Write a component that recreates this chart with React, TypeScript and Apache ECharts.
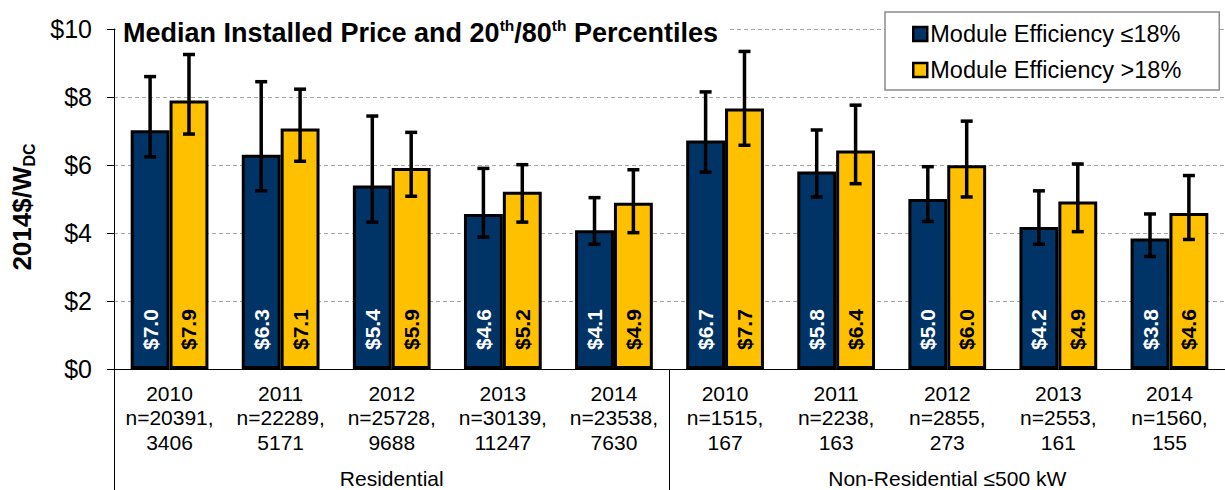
import React, { useEffect, useRef } from "react";
import * as echarts from "echarts";

const FONT = "'Liberation Sans', Arial, sans-serif";

const years = ["2010", "2011", "2012", "2013", "2014", "2010", "2011", "2012", "2013", "2014"];
const sampleSizes = [
  "n=20391,\n3406",
  "n=22289,\n5171",
  "n=25728,\n9688",
  "n=30139,\n11247",
  "n=23538,\n7630",
  "n=1515,\n167",
  "n=2238,\n163",
  "n=2855,\n273",
  "n=2553,\n161",
  "n=1560,\n155",
];
const segments = ["Residential", "Non-Residential ≤500 kW"];
const seriesNames = ["Module Efficiency ≤18%", "Module Efficiency >18%"];

const lowEffMedian = [7.02, 6.3, 5.4, 4.56, 4.08, 6.72, 5.81, 5.0, 4.18, 3.84];
const lowEffP20 = [6.24, 5.24, 4.32, 3.88, 3.67, 5.79, 5.06, 4.34, 3.67, 3.31];
const lowEffP80 = [8.6, 8.45, 7.44, 5.9, 5.04, 8.15, 7.03, 5.95, 5.24, 4.56];

const highEffMedian = [7.9, 7.07, 5.91, 5.21, 4.89, 7.66, 6.43, 5.99, 4.93, 4.59];
const highEffP20 = [6.91, 6.11, 5.08, 4.32, 4.01, 6.58, 5.45, 5.06, 4.04, 3.81];
const highEffP80 = [9.25, 8.23, 6.96, 6.01, 5.86, 9.34, 7.76, 7.29, 6.03, 5.69];

const yTicks = { min: 0, max: 10, interval: 2 };

const BLUE = "#003366";
const YELLOW = "#FFC000";

function makeErrorSeries(name: string, lo: number[], hi: number[], sign: number) {
  return {
    type: "custom",
    name,
    xAxisIndex: 0,
    z: 5,
    data: lo.map((l, i) => [i, l, hi[i]]),
    encode: { x: 0, y: [1, 2] },
    renderItem: (params: any, api: any) => {
      const idx = api.value(0);
      const pHi = api.coord([idx, api.value(2)]);
      const pLo = api.coord([idx, api.value(1)]);
      const band = api.size([1, 0])[0];
      const cx = pHi[0] + sign * band * 0.175;
      const cap = 6;
      const st = { stroke: "#000", lineWidth: 3.5 };
      return {
        type: "group",
        children: [
          { type: "line", shape: { x1: cx, y1: pHi[1], x2: cx, y2: pLo[1] }, style: st },
          { type: "line", shape: { x1: cx - cap, y1: pHi[1], x2: cx + cap, y2: pHi[1] }, style: st },
          { type: "line", shape: { x1: cx - cap, y1: pLo[1], x2: cx + cap, y2: pLo[1] }, style: st },
        ],
      };
    },
  };
}

function barLabel(color: string) {
  return {
    show: true,
    position: "insideBottom",
    rotate: 90,
    align: "left",
    verticalAlign: "middle",
    distance: 19,
    color,
    fontFamily: FONT,
    fontWeight: "bold",
    fontSize: 21,
    formatter: (p: any) => "$" + Number(p.value).toFixed(1),
  };
}

export default function App() {
  const ref = useRef<HTMLDivElement>(null);
  useEffect(() => {
    document.body.style.margin = "0";
    if (!ref.current) return;
    const chart = echarts.init(ref.current, undefined, { renderer: "svg" });
    const categories = years.map((y, i) => y + "\n" + sampleSizes[i]);
    chart.setOption({
      animation: false,
      backgroundColor: "#fff",
      textStyle: { fontFamily: FONT },
      grid: { left: 114, top: 29, width: 1121, height: 340, containLabel: false },
      legend: {
        data: seriesNames,
        orient: "vertical",
        left: 885,
        top: 12,
        padding: [10, 38, 8, 27],
        itemGap: 12,
        itemWidth: 14,
        itemHeight: 14,
        icon: "rect",
        backgroundColor: "#fff",
        borderColor: "#8c8c8c",
        borderWidth: 1.5,
        borderRadius: 0,
        itemStyle: { borderColor: "#000", borderWidth: 2.5 },
        textStyle: { fontFamily: FONT, fontSize: 23.5, color: "#000", padding: [0, 0, 0, -2] },
      },
      xAxis: [
        {
          type: "category",
          data: categories,
          position: "bottom",
          axisLine: { show: true, lineStyle: { color: "#000", width: 1 } },
          axisTick: { show: false },
          axisLabel: {
            interval: 0,
            margin: 12,
            fontFamily: FONT,
            fontSize: 21,
            lineHeight: 24.5,
            color: "#000",
          },
        },
        {
          type: "category",
          data: segments,
          position: "bottom",
          axisLine: { show: false },
          axisTick: { show: true, length: 125, lineStyle: { color: "#000", width: 1 } },
          axisLabel: {
            interval: 0,
            margin: 99,
            fontFamily: FONT,
            fontSize: 21,
            color: "#000",
          },
        },
      ],
      yAxis: {
        type: "value",
        min: yTicks.min,
        max: yTicks.max,
        interval: yTicks.interval,
        axisLine: { show: true, lineStyle: { color: "#000", width: 1 } },
        axisTick: { show: true, length: 7, lineStyle: { color: "#000" } },
        axisLabel: {
          formatter: (v: number) => "$" + v,
          fontFamily: FONT,
          fontSize: 25,
          color: "#000",
          margin: 22,
        },
        splitLine: { show: true, lineStyle: { color: "#a6a6a6", type: [4, 3], width: 1 } },
      },
      series: [
        {
          type: "bar",
          name: seriesNames[0],
          data: lowEffMedian,
          barWidth: "35%",
          barGap: "0%",
          itemStyle: { color: BLUE, borderColor: "#000", borderWidth: 3 },
          label: barLabel("#fff"),
          z: 2,
        },
        {
          type: "bar",
          name: seriesNames[1],
          data: highEffMedian,
          barWidth: "35%",
          barGap: "0%",
          itemStyle: { color: YELLOW, borderColor: "#000", borderWidth: 3 },
          label: barLabel("#000"),
          z: 2,
        },
        makeErrorSeries("err-low", lowEffP20, lowEffP80, -1),
        makeErrorSeries("err-high", highEffP20, highEffP80, 1),
      ],
      graphic: [
        {
          type: "text",
          x: 116,
          y: 32.5,
          z: 10,
          style: {
            text: "{m|Median Installed Price and 20}{s|th}{m|/80}{s|th}{m| Percentiles}",
            align: "left",
            verticalAlign: "middle",
            backgroundColor: "#fff",
            padding: [0, 10, 0, 7],
            rich: {
              m: { fontFamily: FONT, fontSize: 27, fontWeight: "bold", fill: "#000", color: "#000" },
              s: {
                fontFamily: FONT,
                fontSize: 15.5,
                fontWeight: "bold",
                fill: "#000",
                color: "#000",
                padding: [0, 0, 14, 0],
              },
            },
          },
        },
        {
          type: "text",
          x: 22,
          y: 207,
          rotation: Math.PI / 2,
          z: 10,
          style: {
            text: "{m|2014$/W}{s|DC}",
            align: "center",
            verticalAlign: "middle",
            rich: {
              m: { fontFamily: FONT, fontSize: 26, fontWeight: "bold", fill: "#000", color: "#000" },
              s: {
                fontFamily: FONT,
                fontSize: 16,
                fontWeight: "bold",
                fill: "#000",
                color: "#000",
                padding: [14, 0, 0, 0],
              },
            },
          },
        },
      ],
    });
    return () => chart.dispose();
  }, []);
  return <div ref={ref} style={{ width: 1225, height: 490 }} />;
}
